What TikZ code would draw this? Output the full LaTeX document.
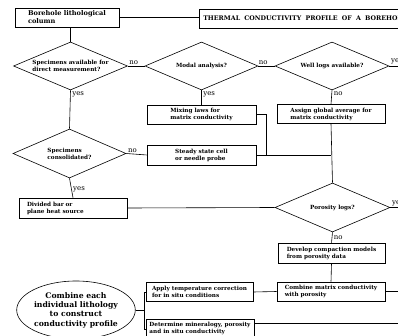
\documentclass[tikz,border=0pt]{standalone}
\usepackage{fontspec}
\setmainfont{DejaVu Serif}
\usetikzlibrary{positioning,shapes.geometric}

\begin{document}
\begin{tikzpicture}[
  x=1pt, y=-1pt,
  line width=0.6pt,
  block/.style={draw,align=left,minimum width=108pt,minimum height=19pt,inner xsep=2pt,inner ysep=1.5pt,font=\bfseries\fontsize{5.7}{7}\selectfont},
  decision/.style={draw,diamond,aspect=2.4,inner sep=0pt,minimum width=114pt,minimum height=48pt,align=left,font=\bfseries\fontsize{5.7}{7}\selectfont},
  lbl/.style={inner sep=1.5pt,font=\fontsize{7}{8}\selectfont}
]
\useasboundingbox (0,0) rectangle (398,336);
\clip (0,0) rectangle (398,336);
\coordinate (rim) at (430,0);

\node[block,minimum width=104pt,font=\bfseries\fontsize{6.6}{8}\selectfont] (bore) at (67,17.5) {Borehole lithological\\column};
\node[draw,anchor=west,minimum height=19pt,text width=300pt,align=left,inner xsep=4pt,font=\bfseries\fontsize{6.3}{7}\selectfont] (title) at (199,18.5) {THERMAL\ \ CONDUCTIVITY\ \ PROFILE\ \ OF\ \ A\ \ BOREHOLE};

\node[decision] (avail) at (70.5,66) {Specimens available for\\direct measurement?};
\node[decision,minimum width=113pt] (modal) at (201.5,66) {Modal analysis?};
\node[decision] (logs) at (332,66) {Well logs available?};

\node[block,minimum width=109pt] (mix) at (201.5,114.5) {Mixing laws for\\matrix conductivity};
\node[block] (assign) at (331,114) {Assign global average for\\matrix conductivity};

\node[decision,minimum width=113pt,minimum height=49pt] (consol) at (69.5,153.5) {Specimens\\consolidated?};
\node[block,minimum width=109pt,minimum height=20pt] (steady) at (201.5,155) {Steady state cell\\or needle probe};

\node[block,text width=92pt,inner xsep=4pt,minimum height=20pt] (divbar) at (73,208) {Divided bar or\\plane heat source};
\node[decision,minimum width=115pt,minimum height=49pt] (poro) at (332.5,207.5) {Porosity logs?};

\node[block,minimum width=107pt,minimum height=20pt] (compact) at (331.5,253) {Develop compaction models\\from porosity data};
\node[block] (combmat) at (331,291.5) {Combine matrix conductivity\\with porosity};

\node[block,minimum width=107pt] (temp) at (199.5,292) {Apply temperature correction\\for in situ conditions};
\node[block,anchor=north] (miner) at (200,319) {Determine mineralogy, porosity\\and in situ conductivity};

\node[draw,ellipse,minimum width=111pt,minimum height=58pt,inner sep=0pt,align=center,font=\bfseries\fontsize{7.7}{9.3}\selectfont] (profile) at (76,310) {Combine each\\individual lithology\\to construct\\conductivity profile};

% top row
\draw (bore.east) -- (bore.east -| title.west);
\draw (bore.south -| avail.north) -- (avail.north);
\draw (avail.east) -- node[lbl,above,pos=0.35]{no} (modal.west);
\draw (modal.east) -- node[lbl,above,pos=0.3]{no} (logs.west);
\draw (logs.east) -- node[lbl,anchor=south west,pos=0]{yes} (logs.east -| rim);

% matrix conductivity
\draw (avail.south) -- node[lbl,anchor=north west,pos=0]{yes} (consol.north);
\draw (modal.south) -- node[lbl,anchor=north west,pos=0]{yes} (mix.north);
\draw (logs.south) -- node[lbl,anchor=north west,pos=0]{no} (assign.north);
\draw (consol.east) -- node[lbl,above,pos=0.3]{no} (steady.west);
\draw (consol.south) -- node[lbl,right,pos=0.55]{yes} (divbar.north);
\coordinate (jn) at (266,155);
\draw (mix.east) -| (jn);
\draw (steady.east) -- (steady.east -| assign.south);
\draw (assign.south) -- (poro.north);

% porosity
\draw (divbar.east) -- (poro.west);
\draw (poro.east) -- node[lbl,anchor=south west,pos=0]{yes} (poro.east -| rim);
\draw (poro.south) -- node[lbl,right,pos=0.5]{no} (compact.north);
\draw (compact.south) -- (combmat.north);
\draw (combmat.east) -- (combmat.east -| rim);
\draw (temp.east) -- (combmat.west);
\draw ([yshift=-4pt]miner.north east) -- ([yshift=-4pt]miner.north east -| rim);

% bracket to profile
\draw (profile.east) -- ++(9,0) coordinate (br);
\draw (temp.west) -| (br) |- (miner.west);
\end{tikzpicture}
\end{document}
